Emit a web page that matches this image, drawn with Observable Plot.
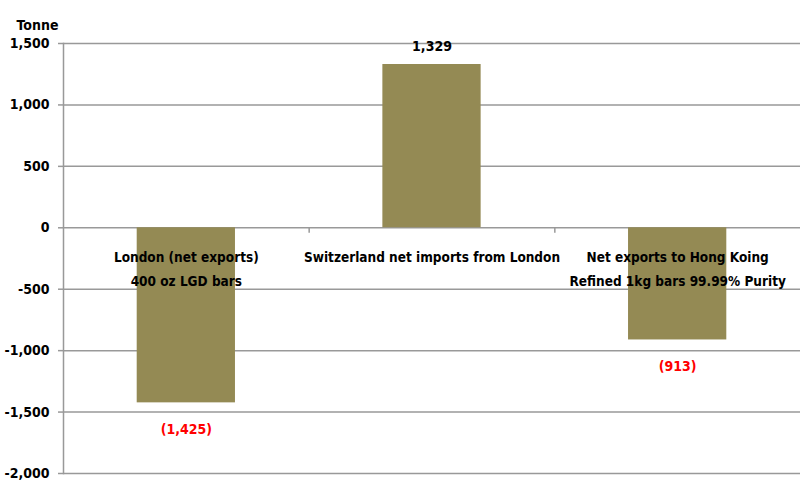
<!DOCTYPE html>
<html>
<head>
<meta charset="utf-8">
<script src="https://cdn.jsdelivr.net/npm/d3@7"></script>
<script src="https://cdn.jsdelivr.net/npm/@observablehq/plot@0.6"></script>
<style>
  html, body { margin: 0; padding: 0; background: #fff; }
  #chart svg { display: block; }
  #chart svg text { font-stretch: condensed; }
</style>
</head>
<body>
<div id="chart"></div>
<script>
// Gold flows, tonnes
const categories = [
  "London (net exports)\n400 oz LGD bars",
  "Switzerland net imports from London",
  "Net exports to Hong Koing\nRefined 1kg bars 99.99% Purity"
];
const values = [-1425, 1329, -913];
const yTicks = [-2000, -1500, -1000, -500, 0, 500, 1000, 1500];
const unitLabel = "Tonne";

const rows = categories.map((name, i) => ({name, i, value: values[i]}));
const font = "'DejaVu Sans Condensed', 'DejaVu Sans', sans-serif";
// thousands separator with a plain hyphen for negatives
const fmtNum = d3.formatLocale({decimal: ".", thousands: ",", grouping: [3], currency: ["", ""], minus: "-"}).format(",");
const valueText = v => v < 0 ? `(${fmtNum(-v)})` : fmtNum(v);

const chart = Plot.plot({
  width: 800,
  height: 501,
  marginTop: 43,
  marginBottom: 28,
  marginLeft: 63,
  marginRight: 0,
  style: {fontFamily: font, fontWeight: "bold", fontSize: "14px", color: "#000", background: "#fff"},
  x: {domain: [0, categories.length], axis: null},
  y: {domain: [-2000, 1500], axis: null},
  marks: [
    Plot.gridY(yTicks, {stroke: "#999", strokeOpacity: 1, strokeWidth: 1.5}),
    Plot.axisY(yTicks, {tickFormat: fmtNum, tickSize: 5, tickPadding: 9, stroke: "#999", strokeWidth: 1.5, fontSize: 14, fontWeight: "bold", fill: "#000", label: null}),
    Plot.frame({anchor: "left", stroke: "#999", strokeWidth: 1.5}),
    // bars
    Plot.rectY(rows, {x1: d => d.i + 0.3, x2: d => d.i + 0.7, y1: 0, y2: "value", fill: "#948A54"}),
    // small category boundary ticks on the zero line
    Plot.ruleX(d3.range(1, categories.length), {x: d => d, y1: 0, y2: -45, stroke: "#999", strokeWidth: 1.5}),
    // category labels just below the zero line
    Plot.text(rows, {x: d => d.i + 0.5, y: 0, text: "name", lineAnchor: "top", dy: 17, lineHeight: 1.8, fontSize: 13.5, fontWeight: "bold", fill: "#000"}),
    // value labels: positive above the bar, negative (in brackets) below
    Plot.text(rows.filter(d => d.value >= 0), {
      x: d => d.i + 0.5, y: "value", text: d => valueText(d.value),
      dy: -18, fill: "#000", fontSize: 14, fontWeight: "bold"
    }),
    Plot.text(rows.filter(d => d.value < 0), {
      x: d => d.i + 0.5, y: "value", text: d => valueText(d.value),
      dy: 27, fill: "#ff0000", fontSize: 14, fontWeight: "bold"
    }),
    Plot.text([unitLabel], {frameAnchor: "top-left", text: d => d, dx: -26, dy: -23, textAnchor: "middle", fontSize: 14, fontWeight: "bold", fill: "#000"})
  ]
});

document.getElementById("chart").appendChild(chart);
</script>
</body>
</html>
